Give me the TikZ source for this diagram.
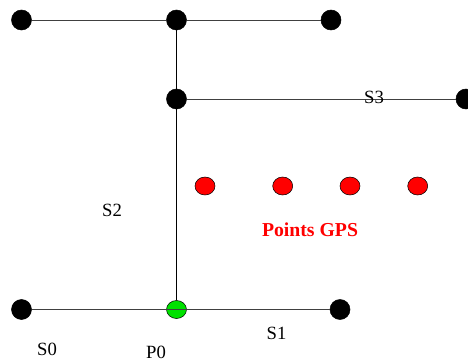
\documentclass[tikz,border=0pt]{standalone}
\usepackage{fontspec}
\setmainfont{Liberation Serif}
\usetikzlibrary{positioning,shapes.geometric}
\definecolor{gpsred}{RGB}{255,0,0}
\definecolor{posgreen}{RGB}{0,225,0}

\begin{document}
\begin{tikzpicture}[
  x=0.75pt, y=-0.75pt,
  font=\fontsize{14}{16}\selectfont,
  dot/.style    = {circle, draw, fill=black, inner sep=0pt, minimum size=15pt},
  gps/.style    = {ellipse, draw, fill=gpsred, line width=0.4pt, inner sep=0pt,
                   minimum width=15pt, minimum height=13.5pt},
  posdot/.style = {gps, fill=posgreen},
  seg/.style    = {line width=0.75pt, black!75},
  lbl/.style    = {inner sep=0pt}
]
\useasboundingbox (0,0) rectangle (468,361);

% ========================= road network =================================
\node[dot] (tl) at (21.5,20) {};
\node[dot] (tm) at (176.5,20) {};
\node[dot] (tr) at (331,20) {};
\node[dot] (mm) at (176.5,99) {};
\node[dot] (mr) at (466,99) {};
\node[dot] (bl) at (21.5,309.5) {};
\node[posdot] (p0) at (176.5,309.5) {};
\node[dot] (br) at (340,309.5) {};

\draw[seg] (tl) -- (tm);
\draw[seg] (tm) -- (tr);
\draw[seg, black] (tm) -- (mm);
\draw[seg] (mm) -- (mr);
\draw[seg, black] (mm) -- (p0);
\draw[seg] (bl) -- (p0);
\draw[seg] (p0) -- (br);
\draw[seg] (p0.west) -- (p0.east);

% ========================= GPS points ===================================
\foreach \x [count=\i] in {205,282.7,350,417.7}
  \node[gps] (g\i) at (\x,186) {};

% ========================= labels =======================================
\node[lbl] (s3) at (374,97) {S3};
\node[lbl] (s2) at (112,210) {S2};
\node[lbl, text=gpsred, font=\fontsize{14.8}{17}\selectfont\bfseries] (ptgps) at (310,230) {Points GPS};
\node[lbl] (s1) at (276.5,333) {S1};
\node[lbl] (s0) at (47,349) {S0};
\node[lbl] (p0lbl) at (156,352) {P0};

\end{tikzpicture}
\end{document}
